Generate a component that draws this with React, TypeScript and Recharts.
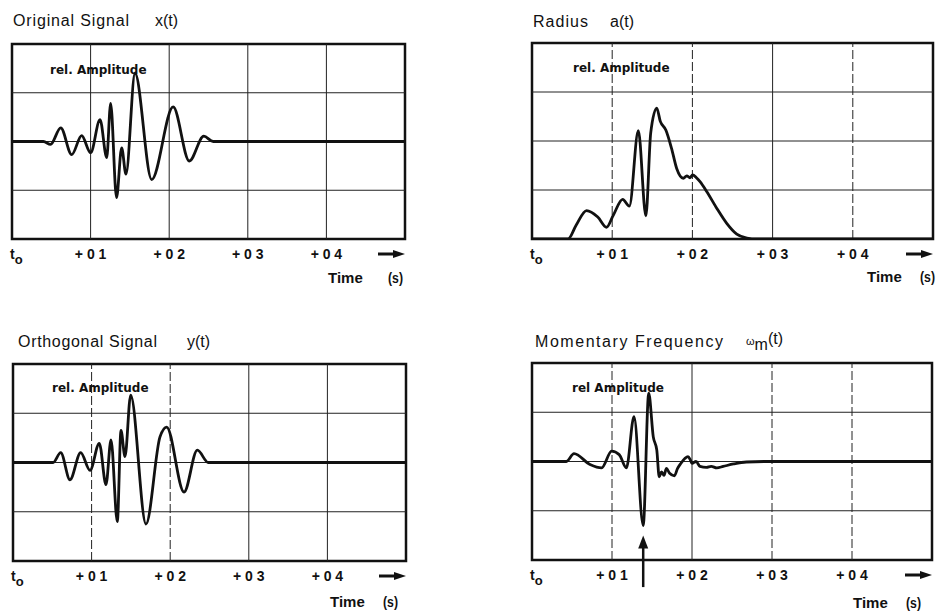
import React from 'react';
import { Line, LineChart, ReferenceArea, ReferenceLine, XAxis, YAxis } from 'recharts';

// time axis (seconds after t_o)
const timeTicks = [0, 0.1, 0.2, 0.3, 0.4, 0.5];
const timeTickLabels = ['t', '+ 0 1', '+ 0 2', '+ 0 3', '+ 0 4', ''];
const gridTimes = [0.1, 0.2, 0.3, 0.4];

// original signal x(t)
const xTime = [0, 0.04, 0.049, 0.062, 0.076, 0.0886, 0.1, 0.112, 0.1205, 0.1255, 0.133, 0.1395, 0.145, 0.1565, 0.1777, 0.205, 0.2256, 0.244, 0.256, 0.5];
const xAmp = [0, 0, -0.06, 0.28, -0.27, 0.12, -0.23, 0.45, -0.33, 0.78, -1.15, -0.13, -0.67, 1.4, -0.78, 0.71, -0.4, 0.11, 0, 0];

// radius a(t)
const aTime = [0, 0.045, 0.055, 0.068, 0.082, 0.093, 0.1015, 0.113, 0.1214, 0.1326, 0.142, 0.148, 0.1555, 0.16, 0.167, 0.174, 0.1804, 0.1887, 0.193, 0.197, 0.2003, 0.205, 0.2095, 0.2178, 0.2303, 0.2428, 0.2553, 0.268, 0.28, 0.5];
const aAmp = [0, 0, 0.28, 0.58, 0.45, 0.24, 0.49, 0.81, 0.67, 2.21, 0.47, 2.16, 2.67, 2.4, 2.22, 1.85, 1.44, 1.24, 1.29, 1.25, 1.31, 1.25, 1.17, 0.97, 0.63, 0.32, 0.1, 0.02, 0, 0];

// orthogonal signal y(t)
const yTime = [0, 0.051, 0.0607, 0.0725, 0.0861, 0.098, 0.1098, 0.1183, 0.1247, 0.1327, 0.1374, 0.1425, 0.1497, 0.1692, 0.187, 0.1955, 0.2176, 0.2345, 0.2485, 0.5];
const yAmp = [0, 0, 0.2, -0.35, 0.2, -0.16, 0.39, -0.45, 0.46, -1.2, 0.65, 0.12, 1.37, -1.25, 0.52, 0.72, -0.6, 0.25, 0, 0];

// momentary frequency w_m(t)
const wTime = [0, 0.043, 0.0525, 0.0725, 0.087, 0.0996, 0.109, 0.118, 0.1275, 0.139, 0.1459, 0.1516, 0.156, 0.159, 0.162, 0.165, 0.168, 0.172, 0.178, 0.182, 0.186, 0.191, 0.195, 0.198, 0.2, 0.205, 0.21, 0.218, 0.224, 0.231, 0.239, 0.252, 0.268, 0.29, 0.5];
const wAmp = [0, 0, 0.16, -0.06, -0.13, 0.21, 0.14, -0.13, 0.91, -1.3, 1.39, 0.5, 0.23, -0.31, -0.21, -0.28, -0.14, -0.24, -0.29, -0.14, -0.04, 0.06, 0.1, 0.03, -0.04, 0, -0.1, -0.12, -0.1, -0.13, -0.1, -0.05, -0.01, 0, 0];
const arrowTime = 0.139;

const SANS = '"Liberation Sans", Arial, sans-serif';
const DEJA = '"DejaVu Sans", sans-serif';
const INK = '#111';

const rows = (t: number[], v: number[]) => t.map((tt, i) => ({ t: tt, v: v[i] }));

function TimeTick(props: any) {
  const { x, y, payload } = props;
  const i = timeTicks.indexOf(payload.value);
  const base = y + 20;
  if (i === 0) {
    return (
      <text x={x - 2} y={base} fontFamily={SANS} fontSize={14} fontWeight="bold" fill={INK}>
        t<tspan dy={5} fontSize={13}>o</tspan>
      </text>
    );
  }
  if (i === timeTicks.length - 1) {
    const ay = base - 5;
    return (
      <g>
        <line x1={x - 27} y1={ay} x2={x - 9} y2={ay} stroke={INK} strokeWidth={3} />
        <polygon points={`${x},${ay} ${x - 12},${ay - 4} ${x - 12},${ay + 4}`} fill={INK} />
      </g>
    );
  }
  return (
    <text x={x} y={base} textAnchor="middle" fontFamily={SANS} fontSize={14} fontWeight="bold" fill={INK}>
      {timeTickLabels[i]}
    </text>
  );
}

function ArrowShape(props: any) {
  const { x1, y1, y2 } = props;
  const top = Math.min(y1, y2);
  const bot = Math.max(y1, y2);
  return (
    <g>
      <line x1={x1} y1={top + 10} x2={x1} y2={bot} stroke={INK} strokeWidth={2.5} />
      <polygon points={`${x1},${top} ${x1 - 5},${top + 13} ${x1 + 5},${top + 13}`} fill={INK} />
    </g>
  );
}

function Panel(props: any) {
  const { data, left, top, width, height, yDomain, levels, dashed, arrow } = props;
  const m = 10;
  const axisH = 50;
  return (
    <div style={{ position: 'absolute', left: left - m, top: top - m }}>
      <LineChart width={width + 2 * m} height={height + m + axisH} data={data} margin={{ top: m, right: m, left: m, bottom: 0 }}>
        <XAxis
          dataKey="t"
          type="number"
          domain={[0, 0.5]}
          ticks={timeTicks}
          interval={0}
          tick={<TimeTick />}
          tickLine={false}
          axisLine={false}
          tickSize={0}
          tickMargin={0}
          height={axisH}
          allowDataOverflow
        />
        <YAxis type="number" domain={yDomain} hide allowDataOverflow />
        {gridTimes.map((g) => (
          <ReferenceLine key={'v' + g} x={g} stroke="#222" strokeWidth={1} strokeDasharray={dashed.includes(g) ? '9 3' : undefined} />
        ))}
        {levels.map((l: number) => (
          <ReferenceLine key={'h' + l} y={l} stroke="#222" strokeWidth={1} />
        ))}
        <ReferenceArea x1={0} x2={0.5} y1={yDomain[0]} y2={yDomain[1]} fill="none" fillOpacity={0} stroke={INK} strokeWidth={2.5} />
        <Line dataKey="v" type="monotone" stroke={INK} strokeWidth={2.8} dot={false} isAnimationActive={false} />
        {arrow !== undefined && (
          <ReferenceLine
            segment={[{ x: arrow, y: -1.5 }, { x: arrow, y: -2.55 }]}
            ifOverflow="visible"
            stroke={INK}
            strokeWidth={2.5}
            shape={ArrowShape}
          />
        )}
      </LineChart>
    </div>
  );
}

export default function App() {
  return (
    <div style={{ position: 'absolute', left: 0, top: 0, width: 938, height: 611, background: '#fff' }}>
      <Panel data={rows(xTime, xAmp)} left={12} top={44} width={393} height={195} yDomain={[-2, 2]} levels={[-1, 0, 1]} dashed={[]} />
      <Panel data={rows(aTime, aAmp)} left={532} top={43} width={401} height={196} yDomain={[0, 4]} levels={[1, 2, 3]} dashed={[0.1, 0.2, 0.4]} />
      <Panel data={rows(yTime, yAmp)} left={13} top={364} width={393} height={197} yDomain={[-2, 2]} levels={[-1, 0, 1]} dashed={[0.1, 0.2]} />
      <Panel data={rows(wTime, wAmp)} left={532} top={363} width={400} height={197} yDomain={[-2, 2]} levels={[-1, 0, 1]} dashed={[0.1, 0.3, 0.4]} arrow={arrowTime} />

      <svg width={938} height={611} style={{ position: 'absolute', left: 0, top: 0, pointerEvents: 'none' }}>
        <g fontFamily={SANS} fontSize={16} fill={INK}>
          <text x={13} y={26} textLength={116} lengthAdjust="spacing">Original Signal</text>
          <text x={155} y={26}>x(t)</text>
          <text x={533} y={27} textLength={55} lengthAdjust="spacing">Radius</text>
          <text x={610} y={27}>a(t)</text>
          <text x={18} y={347} textLength={139} lengthAdjust="spacing">Orthogonal Signal</text>
          <text x={187} y={347}>y(t)</text>
          <text x={535} y={347} textLength={188} lengthAdjust="spacing">Momentary Frequency</text>
          <text x={746} y={345}>
            <tspan fontSize={11}>ω</tspan>
            <tspan dy={5}>m</tspan>
            <tspan dy={-6}>(t)</tspan>
          </text>
        </g>
        <g fontFamily={DEJA} fontSize={12} fontWeight="bold" fill={INK}>
          <text x={50} y={74}>rel. Amplitude</text>
          <text x={573} y={72}>rel. Amplitude</text>
          <text x={52} y={392}>rel. Amplitude</text>
          <text x={572} y={392}>rel Amplitude</text>
        </g>
        <g fontFamily={SANS} fontSize={15} fontWeight="bold" fill={INK}>
          <text x={328} y={283}>Time</text>
          <text x={388} y={283} textLength={15} lengthAdjust="spacingAndGlyphs">(s)</text>
          <text x={867} y={282}>Time</text>
          <text x={920} y={282} textLength={15} lengthAdjust="spacingAndGlyphs">(s)</text>
          <text x={330} y={607}>Time</text>
          <text x={383} y={607} textLength={15} lengthAdjust="spacingAndGlyphs">(s)</text>
          <text x={853} y={608}>Time</text>
          <text x={906} y={608} textLength={15} lengthAdjust="spacingAndGlyphs">(s)</text>
        </g>
      </svg>
    </div>
  );
}
